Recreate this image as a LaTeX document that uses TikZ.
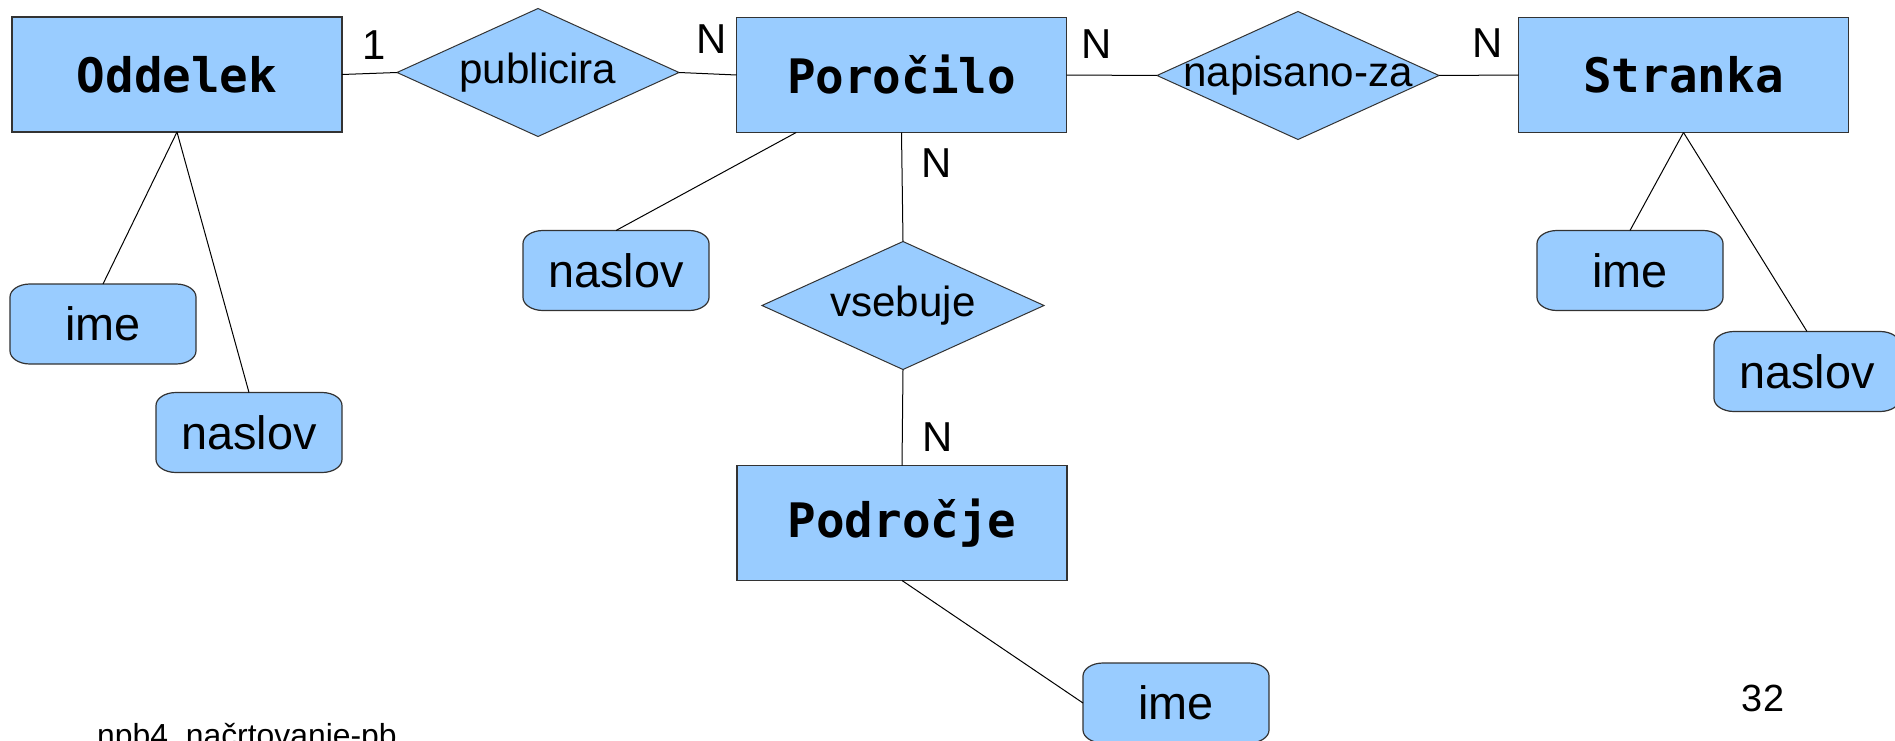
\documentclass[tikz,border=0pt]{standalone}
\usepackage{fontspec}
\setmainfont{Liberation Sans}
\newfontfamily\entfont{DejaVu Sans Mono}
\usetikzlibrary{shapes.geometric,backgrounds}
\definecolor{erblue}{HTML}{99CCFF}
\definecolor{erline}{HTML}{333333}

% attribute outline: a box with elliptical corners, drawn behind node #1
\newcommand\attrbox[1]{%
  \path[attrfill]
    ([xshift=20bp]#1.north west) -- ([xshift=-20bp]#1.north east)
    arc[start angle=90, end angle=0, x radius=20bp, y radius=13bp]
    -- ([yshift=13bp]#1.south east)
    arc[start angle=0, end angle=-90, x radius=20bp, y radius=13bp]
    -- ([xshift=20bp]#1.south west)
    arc[start angle=270, end angle=180, x radius=20bp, y radius=13bp]
    -- ([yshift=-13bp]#1.north west)
    arc[start angle=180, end angle=90, x radius=20bp, y radius=13bp]
    -- cycle;}

\tikzset{
  entity/.style={rectangle, draw=erline, fill=erblue, line width=1.3bp,
    minimum width=330bp, minimum height=115bp, inner sep=0, outer sep=0,
    font=\entfont\bfseries\fontsize{47.7pt}{50pt}\selectfont},
  relation/.style={diamond, draw=erline, fill=erblue, line width=1bp,
    minimum width=282bp, minimum height=128bp, inner sep=0, outer sep=0,
    font=\fontsize{42.3pt}{44pt}\selectfont},
  attr/.style={rectangle, minimum width=186bp, minimum height=80bp,
    inner sep=0, outer sep=0, font=\fontsize{47pt}{50pt}\selectfont},
  attrfill/.style={draw=erline, fill=erblue, line width=1.2bp},
  card/.style={inner sep=0, font=\fontsize{42pt}{44pt}\selectfont},
  link/.style={draw=black, line width=1bp},
}

\begin{document}
\begin{tikzpicture}[x=1bp, y=1bp]
\useasboundingbox (0,0) rectangle (1895,-741);

% entities
\node[entity] (odd) at (177,-74.5) {Oddelek};
\node[entity] (por) at (901.5,-75) {Poročilo};
\node[entity] (str) at (1683.5,-75) {Stranka};
\node[entity] (pod) at (902,-523) {Področje};

% relationships
\node[relation] (pub) at (538,-72.5) {\makebox[0pt]{publicira}};
\node[relation] (nap) at (1298,-75.5) {\makebox[0pt]{napisano-za}};
\node[relation] (vse) at (903,-305.5) {\makebox[0pt]{vsebuje}};

% attributes
\node[attr] (oime) at (103,-324) {ime};
\node[attr] (onas) at (249,-432.5) {naslov};
\node[attr] (pnas) at (616,-270.5) {naslov};
\node[attr] (sime) at (1630,-270.5) {ime};
\node[attr] (snas) at (1807,-371.5) {naslov};
\node[attr] (dime) at (1176,-703) {ime};

\begin{scope}[on background layer]
  \attrbox{oime}\attrbox{onas}\attrbox{pnas}
  \attrbox{sime}\attrbox{snas}\attrbox{dime}
\end{scope}

% relationship lines
\draw[link] (odd.east) -- (pub.west);
\draw[link] (pub.east) -- (por.west);
\draw[link] (por.east) -- (nap.west);
\draw[link] (nap.east) -- (str.west);
\draw[link] (por.south) -- (vse.north);
\draw[link] (vse.south) -- (pod.north);

% attribute lines
\draw[link] (odd.south) -- (oime.north);
\draw[link] (odd.south) -- (onas.north);
\draw[link] (pnas.north) -- (por);
\draw[link] (str.south) -- (sime.north);
\draw[link] (str.south) -- (snas.north);
\draw[link] (pod.south) -- (dime.west);

% cardinalities
\node[card] (c1) at (374,-45) {1};
\node[card] (c2) at (712,-39) {N};
\node[card] (c3) at (1097,-44.5) {N};
\node[card] (c4) at (1488,-43.5) {N};
\node[card] (c5) at (937,-163) {N};
\node[card] (c6) at (938,-437.5) {N};

% slide footer
\node[inner sep=0, anchor=center, font=\fontsize{38pt}{40pt}\selectfont] (page) at (1763,-698.5) {32};
\node[inner sep=0, anchor=base west, font=\fontsize{32pt}{34pt}\selectfont] (foot) at (97,-746) {npb4\_načrtovanje-pb};
\end{tikzpicture}
\end{document}
